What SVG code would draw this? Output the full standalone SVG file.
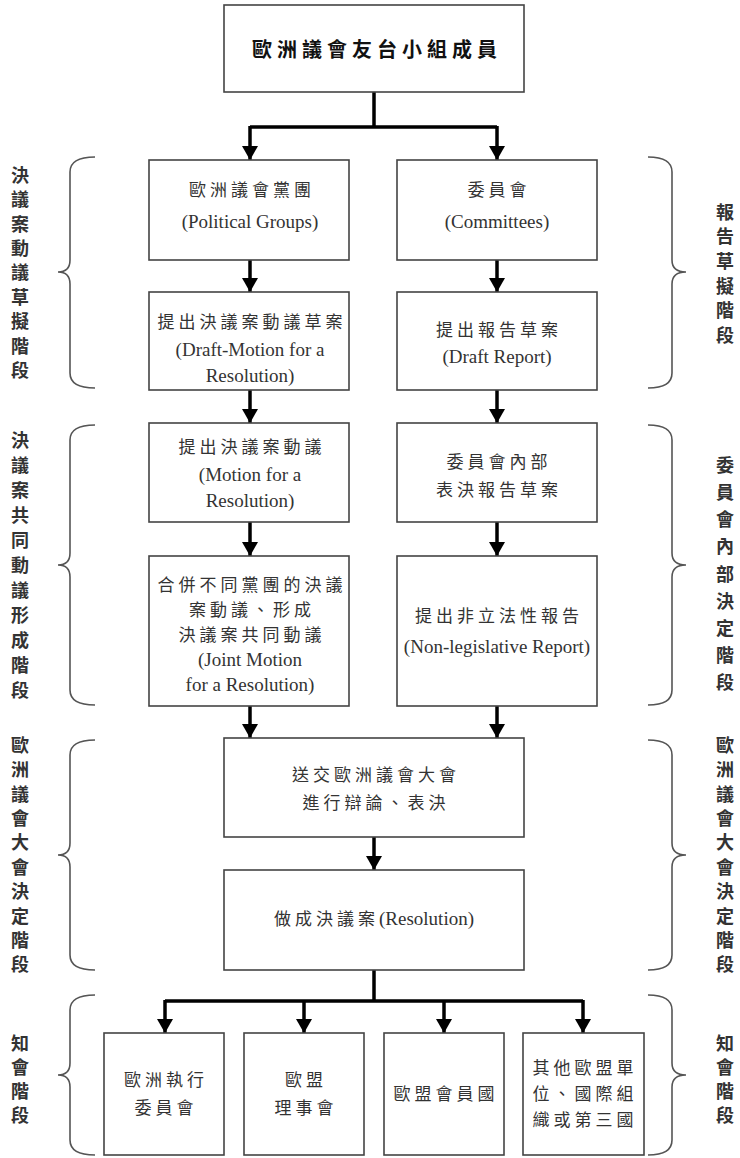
<svg xmlns="http://www.w3.org/2000/svg" width="740" height="1158" viewBox="0 0 740 1158">
<style>
.box{fill:#fff;stroke:#444;stroke-width:1.6}
.t{font-family:"Liberation Serif","Noto Sans CJK TC",serif;font-size:19px;fill:#333;text-anchor:middle}
.c{font-family:"Noto Sans CJK TC",serif;font-size:17px;fill:#333;text-anchor:middle;letter-spacing:4px}
.cj{font-family:"Noto Sans CJK TC",serif;font-size:17px;letter-spacing:4px}
.side{font-family:"Noto Sans CJK TC",serif;font-size:18px;fill:#333;font-weight:bold;writing-mode:vertical-rl}
.title{font-family:"Noto Sans CJK TC",serif;font-size:20px;fill:#111;text-anchor:middle;font-weight:bold;letter-spacing:5px}
.con{fill:none;stroke:#000;stroke-width:3.5}
.br{fill:none;stroke:#555;stroke-width:1.6}
</style>
<defs>
<marker id="ah" viewBox="0 0 14 16" refX="14" refY="8" markerWidth="14" markerHeight="16" markerUnits="userSpaceOnUse" orient="auto">
<path d="M0,0 L14,8 L0,16 z" fill="#000"/>
</marker>
</defs>
<rect width="740" height="1158" fill="#fff"/>

<g id="connectors">
<path class="con" d="M374,92 V127 M250,127 H497"/>
<path class="con" d="M250,126 V160" marker-end="url(#ah)"/>
<path class="con" d="M497,126 V160" marker-end="url(#ah)"/>
<path class="con" d="M250,260 V292" marker-end="url(#ah)"/>
<path class="con" d="M497,260 V292" marker-end="url(#ah)"/>
<path class="con" d="M250,390 V423" marker-end="url(#ah)"/>
<path class="con" d="M497,390 V423" marker-end="url(#ah)"/>
<path class="con" d="M250,522 V556" marker-end="url(#ah)"/>
<path class="con" d="M497,522 V556" marker-end="url(#ah)"/>
<path class="con" d="M250,706 V738" marker-end="url(#ah)"/>
<path class="con" d="M497,706 V738" marker-end="url(#ah)"/>
<path class="con" d="M374,837 V870" marker-end="url(#ah)"/>
<path class="con" d="M374,970 V1001 M165,1001 H583"/>
<path class="con" d="M165,1000 V1033" marker-end="url(#ah)"/>
<path class="con" d="M304,1000 V1033" marker-end="url(#ah)"/>
<path class="con" d="M444,1000 V1033" marker-end="url(#ah)"/>
<path class="con" d="M583,1000 V1033" marker-end="url(#ah)"/>
</g>

<g id="n_top"><rect class="box" x="224" y="5" width="300" height="87"/><text class="title" x="377" y="57">歐洲議會友台小組成員</text></g>

<g id="n_pg"><rect class="box" x="149" y="160" width="200" height="100"/>
<text class="c" x="252" y="196">歐洲議會黨團</text><text class="t" x="250" y="228">(Political Groups)</text></g>
<g id="n_com"><rect class="box" x="397" y="160" width="200" height="100"/>
<text class="c" x="499" y="196">委員會</text><text class="t" x="497" y="228">(Committees)</text></g>

<g id="n_draftmotion"><rect class="box" x="149" y="292" width="200" height="98"/>
<text class="c" x="252" y="328">提出決議案動議草案</text><text class="t" x="250" y="356">(Draft-Motion for a</text><text class="t" x="250" y="382">Resolution)</text></g>
<g id="n_draftreport"><rect class="box" x="397" y="292" width="200" height="98"/>
<text class="c" x="499" y="336">提出報告草案</text><text class="t" x="497" y="363">(Draft Report)</text></g>

<g id="n_motion"><rect class="box" x="149" y="423" width="200" height="99"/>
<text class="c" x="252" y="453">提出決議案動議</text><text class="t" x="250" y="481">(Motion for a</text><text class="t" x="250" y="507">Resolution)</text></g>
<g id="n_vote"><rect class="box" x="397" y="423" width="200" height="99"/>
<text class="c" x="499" y="468">委員會內部</text><text class="c" x="499" y="496">表決報告草案</text></g>

<g id="n_joint"><rect class="box" x="149" y="556" width="200" height="150"/>
<text class="c" x="252" y="591">合併不同黨團的決議</text><text class="c" x="252" y="616">案動議、形成</text><text class="c" x="252" y="641">決議案共同動議</text><text class="t" x="250" y="666">(Joint Motion</text><text class="t" x="250" y="691">for a Resolution)</text></g>
<g id="n_nonleg"><rect class="box" x="397" y="556" width="200" height="150"/>
<text class="c" x="499" y="622">提出非立法性報告</text><text class="t" x="497" y="653">(Non-legislative Report)</text></g>

<g id="n_plenary"><rect class="box" x="224" y="738" width="300" height="99"/>
<text class="c" x="376" y="781">送交歐洲議會大會</text><text class="c" x="376" y="809">進行辯論、表決</text></g>
<g id="n_resolution"><rect class="box" x="224" y="870" width="300" height="100"/>
<text class="t" x="374" y="925"><tspan class="cj">做成決議案</tspan>(Resolution)</text></g>

<g id="n_commission"><rect class="box" x="104" y="1033" width="120" height="122"/>
<text class="c" x="166" y="1086">歐洲執行</text><text class="c" x="166" y="1114">委員會</text></g>
<g id="n_council"><rect class="box" x="244" y="1033" width="120" height="122"/>
<text class="c" x="306" y="1086">歐盟</text><text class="c" x="306" y="1114">理事會</text></g>
<g id="n_members"><rect class="box" x="384" y="1033" width="120" height="122"/>
<text class="c" x="446" y="1100">歐盟會員國</text></g>
<g id="n_others"><rect class="box" x="523" y="1033" width="121" height="122"/>
<text class="c" x="585" y="1074">其他歐盟單</text><text class="c" x="585" y="1100">位、國際組</text><text class="c" x="585" y="1126">織或第三國</text></g>

<g id="braces">
<path class="br" d="M95,157 Q70,157 70,172 V260 Q70,272 58,272 Q70,272 70,284 V373 Q70,388 95,388"/>
<path class="br" d="M95,425 Q70,425 70,440 V553 Q70,565 58,565 Q70,565 70,577 V690 Q70,705 95,705"/>
<path class="br" d="M95,740 Q70,740 70,755 V843 Q70,855 58,855 Q70,855 70,867 V955 Q70,970 95,970"/>
<path class="br" d="M95,995 Q70,995 70,1010 V1063 Q70,1075 58,1075 Q70,1075 70,1087 V1140 Q70,1155 95,1155"/>
<path class="br" d="M648,157 Q672,157 672,172 V260 Q672,272 686,272 Q672,272 672,284 V373 Q672,388 648,388"/>
<path class="br" d="M648,425 Q672,425 672,440 V553 Q672,565 686,565 Q672,565 672,577 V690 Q672,705 648,705"/>
<path class="br" d="M648,740 Q672,740 672,755 V843 Q672,855 686,855 Q672,855 672,867 V955 Q672,970 648,970"/>
<path class="br" d="M648,995 Q672,995 672,1010 V1063 Q672,1075 686,1075 Q672,1075 672,1087 V1140 Q672,1155 648,1155"/>
</g>

<g id="labels_left">
<text class="side" x="20" y="166" style="letter-spacing:6.4px">決議案動議草擬階段</text>
<text class="side" x="20" y="431" style="letter-spacing:7px">決議案共同動議形成階段</text>
<text class="side" x="20" y="736" style="letter-spacing:6.4px">歐洲議會大會決定階段</text>
<text class="side" x="20" y="1034" style="letter-spacing:6px">知會階段</text>
</g>
<g id="labels_right">
<text class="side" x="725" y="203" style="letter-spacing:6.6px">報告草擬階段</text>
<text class="side" x="725" y="456" style="letter-spacing:9.2px">委員會內部決定階段</text>
<text class="side" x="725" y="736" style="letter-spacing:6.4px">歐洲議會大會決定階段</text>
<text class="side" x="725" y="1034" style="letter-spacing:6px">知會階段</text>
</g>
</svg>
